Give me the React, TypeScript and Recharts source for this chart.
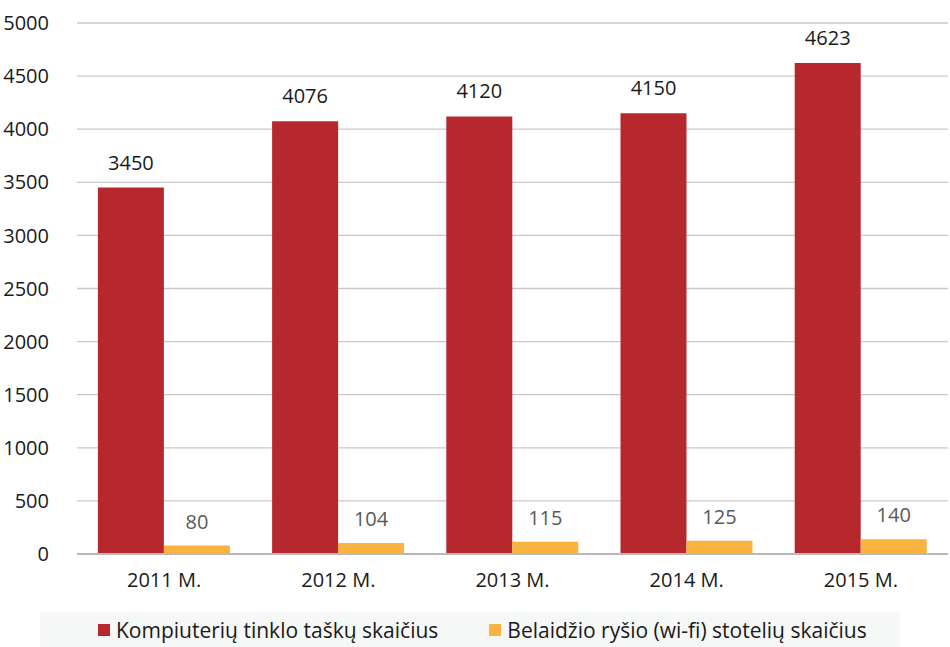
import { BarChart, Bar, XAxis, YAxis, CartesianGrid, Legend, LabelList } from 'recharts'

const YEARS = ['2011 M.', '2012 M.', '2013 M.', '2014 M.', '2015 M.']
const NETWORK_POINTS = [3450, 4076, 4120, 4150, 4623]
const WIFI_STATIONS = [80, 104, 115, 125, 140]
const Y_TICKS = [0, 500, 1000, 1500, 2000, 2500, 3000, 3500, 4000, 4500, 5000]

const RED = '#b7282e'
const YELLOW = '#f9b340'
const FONT = '"Open Sans", "Noto Sans", sans-serif'

const data = YEARS.map((year, i) => ({
  year,
  network: NETWORK_POINTS[i],
  wifi: WIFI_STATIONS[i],
}))

function LegendBox() {
  const items = [
    { label: 'Kompiuterių tinklo taškų skaičius', color: RED },
    { label: 'Belaidžio ryšio (wi-fi) stotelių skaičius', color: YELLOW },
  ]
  return (
    <div
      style={{
        background: '#f6f7f7',
        height: 35,
        display: 'flex',
        alignItems: 'center',
        fontFamily: FONT,
        fontSize: 21,
        color: '#1a1a1a',
        whiteSpace: 'nowrap',
      }}
    >
      {items.map((it, i) => (
        <div
          key={it.label}
          style={{ display: 'flex', alignItems: 'center', marginLeft: i === 0 ? 58 : 51 }}
        >
          <span
            style={{ width: 12, height: 12, background: it.color, display: 'inline-block', marginRight: 6 }}
          />
          <span>{it.label}</span>
        </div>
      ))}
    </div>
  )
}

export default function App() {
  return (
    <div style={{ position: 'absolute', left: 0, top: 0, width: 950, height: 647, background: '#fff' }}>
      <BarChart
        width={950}
        height={647}
        data={data}
        margin={{ top: 23, right: 2, left: 0, bottom: 0 }}
        barCategoryGap="12%"
        barGap={0}
      >
        <CartesianGrid vertical={false} stroke="#c9c9c9" strokeWidth={1.3} />
        <XAxis
          dataKey="year"
          axisLine={{ stroke: '#b9b9b9', strokeWidth: 2 }}
          tickLine={false}
          tick={{ fill: '#1a1a1a', fontSize: 20, fontFamily: FONT }}
          tickMargin={13}
          height={58}
        />
        <YAxis
          width={77}
          domain={[0, 5000]}
          ticks={Y_TICKS}
          interval={0}
          axisLine={false}
          tickLine={false}
          tick={{ fill: '#1a1a1a', fontSize: 20, fontFamily: FONT }}
          tickMargin={22}
        />
        <Legend
          verticalAlign="bottom"
          content={() => <LegendBox />}
          wrapperStyle={{ position: 'absolute', left: 40, top: 612, width: 860, height: 35 }}
        />
        <Bar dataKey="network" fill={RED} isAnimationActive={false}>
          <LabelList
            dataKey="network"
            position="top"
            offset={18}
            style={{ fill: '#1a1a1a', fontSize: 20, fontFamily: FONT }}
          />
        </Bar>
        <Bar dataKey="wifi" fill={YELLOW} isAnimationActive={false}>
          <LabelList
            dataKey="wifi"
            position="top"
            offset={17}
            style={{ fill: '#5a5a5a', fontSize: 20, fontFamily: FONT }}
          />
        </Bar>
      </BarChart>
    </div>
  )
}
